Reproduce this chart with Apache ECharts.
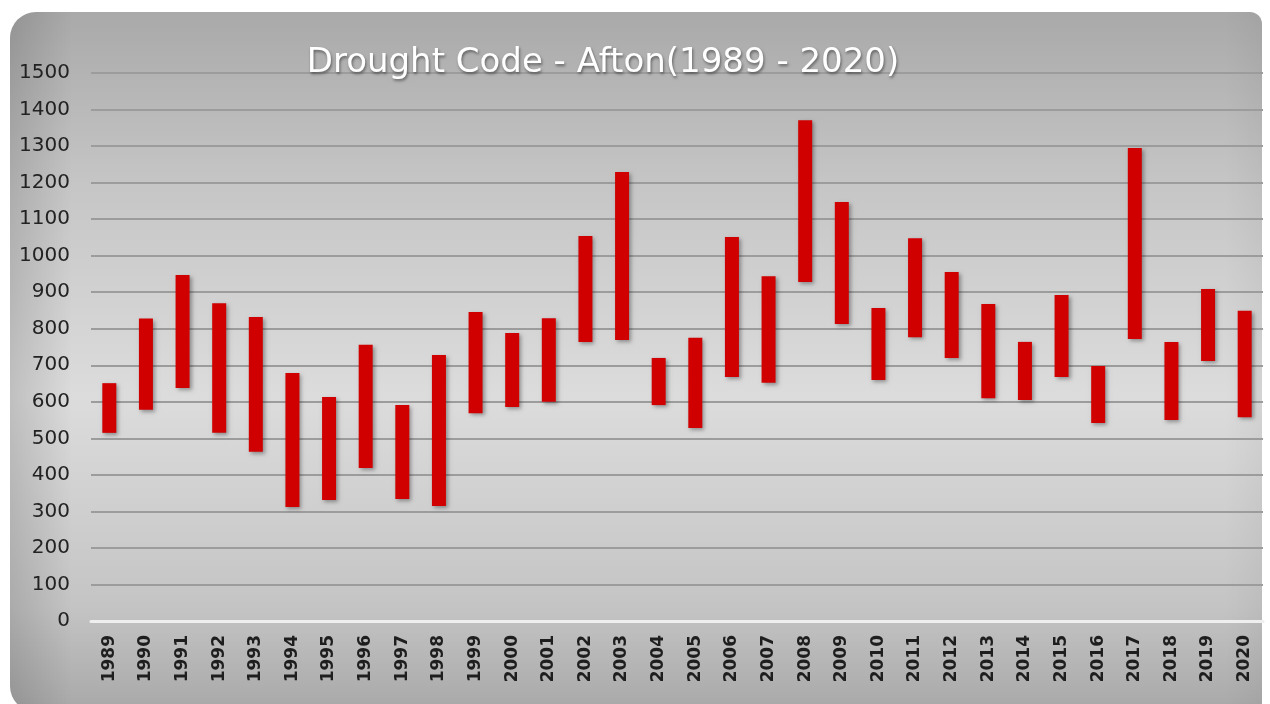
<!DOCTYPE html>
<html>
<head>
<meta charset="utf-8">
<title>Drought Code - Afton</title>
<script src="https://cdn.jsdelivr.net/npm/echarts@6/dist/echarts.min.js"></script>
<style>
  html, body { margin: 0; padding: 0; background: #fff; }
  #chart { width: 1270px; height: 704px; }
</style>
</head>
<body>
<div id="chart"></div>
<script>
// yearly drought code range
const years = ['1989','1990','1991','1992','1993','1994','1995','1996','1997','1998',
  '1999','2000','2001','2002','2003','2004','2005','2006','2007','2008',
  '2009','2010','2011','2012','2013','2014','2015','2016','2017','2018','2019','2020'];
const lows = [515, 578, 638, 515, 463, 312, 331, 419, 334, 315,
  569, 586, 600, 764, 769, 591, 528, 668, 652, 928,
  813, 660, 777, 720, 610, 605, 668, 542, 772, 550, 712, 558];
const highs = [651, 828, 947, 870, 832, 679, 613, 756, 591, 728,
  846, 788, 829, 1054, 1229, 720, 775, 1051, 944, 1371,
  1147, 857, 1048, 955, 868, 764, 892, 698, 1295, 764, 909, 849];
const yTicks = { min: 0, max: 1500, interval: 100 };

const chart = echarts.init(document.getElementById('chart'));

// floating bar: low -> high in one rect
function renderRange(params, api) {
  const x = api.value(0);
  const top = api.coord([x, api.value(2)]);
  const bottom = api.coord([x, api.value(1)]);
  const w = 14;
  return {
    type: 'rect',
    shape: { x: top[0] - w / 2, y: top[1], width: w, height: bottom[1] - top[1] },
    style: {
      fill: '#d10000',
      shadowBlur: 4,
      shadowOffsetX: 2,
      shadowOffsetY: 2,
      shadowColor: 'rgba(0,0,0,0.35)'
    }
  };
}

chart.setOption({
  animation: false,
  graphic: [
    {
      type: 'rect', z: -10, silent: true,
      shape: { x: 10, y: 12, width: 1252, height: 700, r: [26, 12, 0, 26] },
      style: {
        fill: new echarts.graphic.LinearGradient(0, 0, 0, 1, [
          { offset: 0, color: '#a9a9a9' },
          { offset: 0.25, color: '#c6c6c6' },
          { offset: 0.55, color: '#dcdcdc' },
          { offset: 0.85, color: '#c4c4c4' },
          { offset: 1, color: '#a8a8a8' }
        ])
      }
    },
    {
      type: 'rect', z: -9, silent: true,
      shape: { x: 10, y: 12, width: 1252, height: 700, r: [26, 12, 0, 26] },
      style: {
        fill: new echarts.graphic.LinearGradient(0, 0, 1, 0, [
          { offset: 0, color: 'rgba(0,0,0,0.13)' },
          { offset: 0.05, color: 'rgba(0,0,0,0)' },
          { offset: 0.97, color: 'rgba(0,0,0,0)' },
          { offset: 1, color: 'rgba(0,0,0,0.04)' }
        ])
      }
    }
  ],
  title: {
    text: 'Drought Code - Afton(1989 - 2020)',
    left: 598,
    top: 41,
    textAlign: 'center',
    textStyle: {
      color: '#ffffff',
      fontFamily: 'DejaVu Sans',
      fontWeight: 'normal',
      fontSize: 34,
      textShadowColor: 'rgba(0,0,0,0.45)',
      textShadowBlur: 3,
      textShadowOffsetX: 1,
      textShadowOffsetY: 2
    }
  },
  grid: { left: 91, right: 7, top: 73, bottom: 83 },
  xAxis: {
    type: 'category',
    data: years,
    axisTick: { show: false },
    axisLine: { lineStyle: { color: '#efefef', width: 3 } },
    axisLabel: {
      rotate: 90,
      margin: 14,
      color: '#1e1e1e',
      fontFamily: 'DejaVu Sans',
      fontWeight: 'bold',
      fontSize: 17
    }
  },
  yAxis: {
    type: 'value',
    min: yTicks.min,
    max: yTicks.max,
    interval: yTicks.interval,
    axisLine: { show: false },
    axisTick: { show: false },
    splitLine: { lineStyle: { color: '#9c9c9c', width: 2 } },
    axisLabel: {
      margin: 21,
      color: '#222222',
      fontFamily: 'DejaVu Sans',
      fontSize: 20,
      formatter: v => String(v)
    }
  },
  series: [
    {
      type: 'custom',
      renderItem: renderRange,
      encode: { x: 0, y: [1, 2] },
      data: years.map((y, i) => [i, lows[i], highs[i]])
    }
  ]
});
</script>
</body>
</html>
